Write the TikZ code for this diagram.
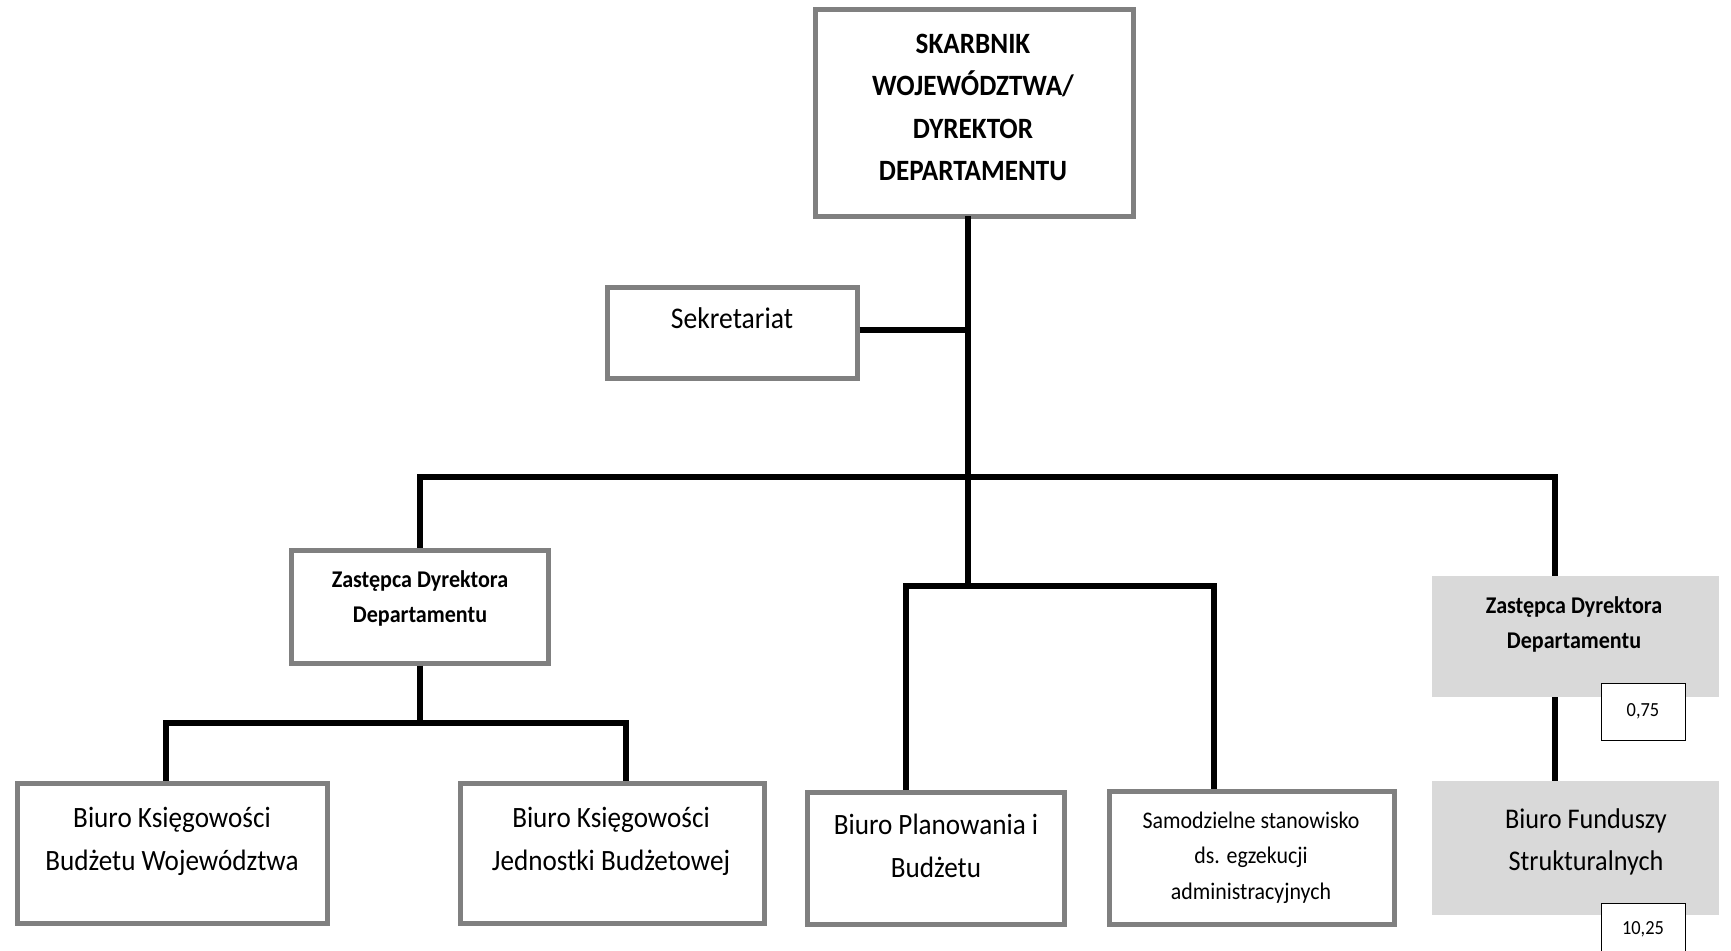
\documentclass[tikz,border=0pt]{standalone}
\usepackage{fontspec}
\setmainfont{Carlito}[FakeStretch=0.92]
\definecolor{boxgray}{HTML}{808080}
\definecolor{lgray}{HTML}{D9D9D9}
\tikzset{
  box/.style={draw=boxgray, line width=5pt, fill=white, inner sep=0pt},
  graybox/.style={fill=lgray, draw=none, inner sep=0pt},
  numbox/.style={draw=black, line width=1pt, fill=white, inner sep=0pt, minimum width=84, minimum height=57},
  conn/.style={line width=5.5pt, black},
  txt/.style={align=center, inner sep=0pt},
}
\begin{document}
\begin{tikzpicture}[x=1pt,y=-1pt]
\useasboundingbox (0,0) rectangle (1731,950);
% boxes
\node[box, minimum width=318, minimum height=206] (top) at (974,113) {};
\node[txt, font=\fontsize{29.5}{42.3}\selectfont\bfseries] (toptxt) at (973,107.5) {SKARBNIK\\WOJEWÓDZTWA/\\DYREKTOR\\DEPARTAMENTU};
\node[box, minimum width=250, minimum height=91] (sek) at (732,332.5) {};
\node[txt, font=\fontsize{30}{36}\selectfont] (sektxt) at (732,318.5) {Sekretariat};
\node[box, minimum width=257, minimum height=113] (zl) at (420,606.5) {};
\node[txt, font=\fontsize{24}{35}\selectfont\bfseries] (zltxt) at (420,598) {Zastępca Dyrektora\\Departamentu};
\node[box, minimum width=310, minimum height=140] (bk1) at (172,853) {};
\node[txt, font=\fontsize{29.5}{43}\selectfont] (bk1txt) at (172,841) {Biuro Księgowości\\Budżetu Województwa};
\node[box, minimum width=304, minimum height=140] (bk2) at (612,853) {};
\node[txt, font=\fontsize{29.5}{43}\selectfont] (bk2txt) at (611,841) {Biuro Księgowości\\Jednostki Budżetowej};
\node[box, minimum width=257, minimum height=132] (bp) at (935.5,858) {};
\node[txt, font=\fontsize{29.5}{43.5}\selectfont] (bptxt) at (936,846) {Biuro Planowania i\\Budżetu};
\node[box, minimum width=285, minimum height=133] (ss) at (1251.5,857.5) {};
\node[txt, font=\fontsize{23.8}{35.5}\selectfont] (sstxt) at (1251,857.5) {Samodzielne stanowisko\\ds. egzekucji\\administracyjnych};
\node[graybox, minimum width=287, minimum height=121] (zr) at (1575.5,636.5) {};
\node[txt, font=\fontsize{24}{34.5}\selectfont\bfseries] (zrtxt) at (1574,624.5) {Zastępca Dyrektora\\Departamentu};
\node[numbox] (n1) at (1643,711.5) {};
\node[txt, font=\fontsize{20}{24}\selectfont] (n1txt) at (1643,711) {0,75};
\node[graybox, minimum width=287, minimum height=134] (bf) at (1575.5,848) {};
\node[txt, font=\fontsize{28.5}{42}\selectfont] (bftxt) at (1586,842) {Biuro Funduszy\\Strukturalnych};
\node[numbox] (n2) at (1643,931.5) {};
\node[txt, font=\fontsize{20}{24}\selectfont] (n2txt) at (1643,929.5) {10,25};
% junction coordinates
\coordinate (jtop) at (968,216);
\coordinate (jsek) at (968,330);
\coordinate (jbar) at (968,477);
\coordinate (jmid) at (968,586);
\coordinate (jl) at (420,723);
\coordinate (jr) at (1555,477);
% connectors
\draw[conn] (jtop) -- (jmid);
\draw[conn] (sek.east |- jsek) -- (jsek);
\draw[conn] (zl.north) |- (jbar) -| (jr) -- (jr |- zr.north);
\draw[conn] (zl.south) -- (jl);
\draw[conn] (bk1.north -| 166,0) |- (jl) -| (bk2.north -| 626,0);
\draw[conn] (bp.north -| 906,0) |- (jmid) -| (ss.north -| 1214,0);
\draw[conn] (zr.south -| jr) -- (bf.north -| jr);
\end{tikzpicture}
\end{document}
